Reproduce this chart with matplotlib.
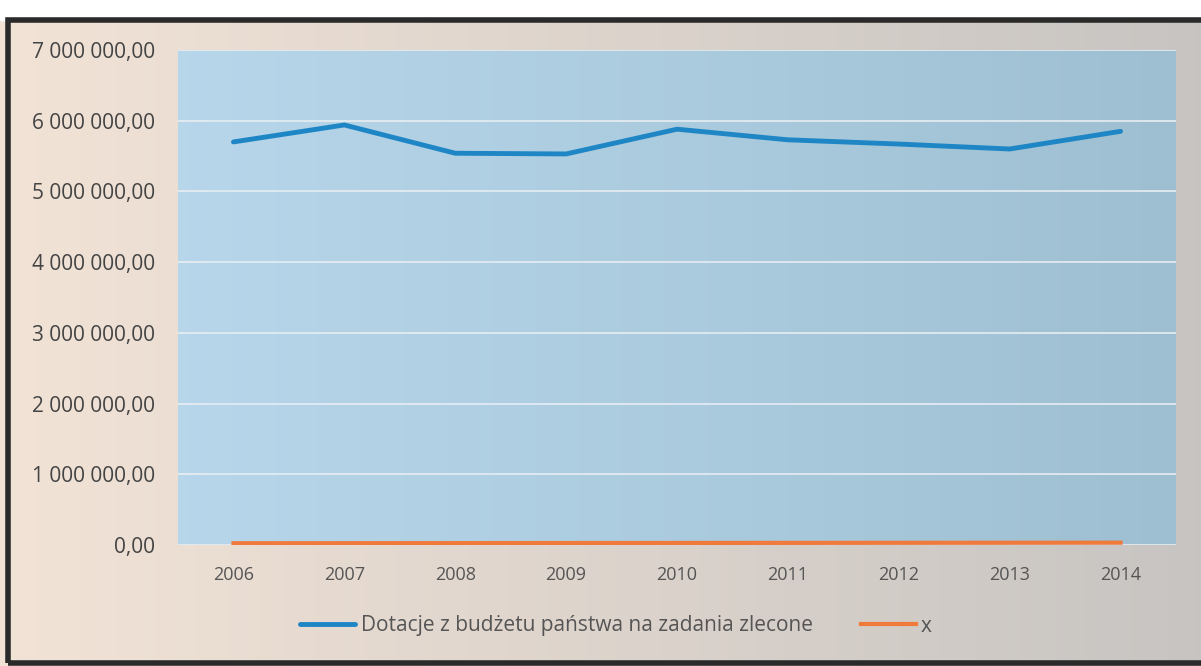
import numpy as np
import matplotlib.pyplot as plt
from matplotlib.patches import Rectangle
from matplotlib.ticker import FuncFormatter

# dane
years = ["2006", "2007", "2008", "2009", "2010", "2011", "2012", "2013", "2014"]
dotacje = [5700000, 5940000, 5540000, 5530000, 5880000, 5730000, 5670000, 5600000, 5850000]
x_values = [25000, 26000, 27000, 28000, 29000, 30000, 31000, 32000, 33000]
y_ticks = [0, 1000000, 2000000, 3000000, 4000000, 5000000, 6000000, 7000000]

series_names = ["Dotacje z budżetu państwa na zadania zlecone", "x"]
colors = ["#1f86c6", "#ef7a3c"]

plt.rcParams['font.family'] = ['Open Sans', 'DejaVu Sans']

fig = plt.figure(figsize=(12.01, 6.66), dpi=100)
fig.patch.set_facecolor("white")

# tło wykresu - gradient (skan)
bg = fig.add_axes([0, 0, 1, 1], zorder=-10)
grad = np.linspace(0, 1, 256)
c_left = np.array([0.95, 0.89, 0.84])
c_right = np.array([0.78, 0.77, 0.76])
img = c_left[None, :] * (1 - grad[:, None]) + c_right[None, :] * grad[:, None]
bg.imshow(img[None, :, :], aspect="auto", extent=[0, 1, 0, 1])
bg.add_patch(Rectangle((0, 0.97), 1, 0.03, color="white", transform=bg.transAxes))
bg.add_patch(Rectangle((0.007, 0.005), 1.0, 0.965, fill=False, edgecolor="#2a2a2a",
                       linewidth=4, transform=bg.transAxes))
bg.set_xlim(0, 1)
bg.set_ylim(0, 1)
bg.axis("off")

ax = fig.add_axes([178 / 1201, 1 - 545 / 666, (1176 - 178) / 1201, (545 - 50) / 666])

# niebieskie tło obszaru kreślenia
pgrad = np.linspace(0, 1, 256)
p_left = np.array([0.72, 0.84, 0.92])
p_right = np.array([0.62, 0.75, 0.82])
pimg = p_left[None, :] * (1 - pgrad[:, None]) + p_right[None, :] * pgrad[:, None]
ax.imshow(pimg[None, :, :], aspect="auto", extent=[-0.5, len(years) - 0.5, 0, 7000000],
          zorder=0)

xs = np.arange(len(years))
ax.plot(xs, dotacje, color=colors[0], linewidth=3.5, solid_capstyle="round",
        label=series_names[0], zorder=3)
ax.plot(xs, x_values, color=colors[1], linewidth=3, label=series_names[1], zorder=3)

ax.set_xlim(-0.5, len(years) - 0.5)
ax.set_ylim(0, 7000000)
ax.set_xticks(xs)
ax.set_xticklabels(years)
ax.set_yticks(y_ticks)
ax.yaxis.set_major_formatter(FuncFormatter(lambda v, p: f"{v:,.2f}".replace(",", " ").replace(".", ",")))
ax.grid(axis="y", color="#e6eef2", linewidth=1.2, zorder=1)
ax.set_axisbelow(False)
for s in ax.spines.values():
    s.set_visible(False)
ax.tick_params(length=0, colors="#444444")
ax.tick_params(axis="y", pad=16.5, labelsize=15)
ax.tick_params(axis="x", pad=15, labelsize=13, colors="#555555")

fig.legend(loc="center", bbox_to_anchor=(616 / 1201, 1 - 626 / 666), ncol=2, frameon=False,
           fontsize=15, handlelength=2.65, handletextpad=0.25, columnspacing=2.3,
           labelcolor="#555555")

fig.savefig("out.png", dpi=100)
